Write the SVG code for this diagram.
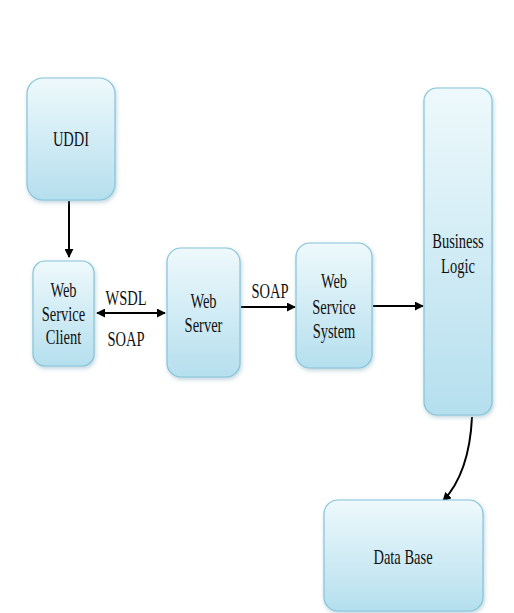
<svg xmlns="http://www.w3.org/2000/svg" width="514" height="613" viewBox="0 0 514 613">
<defs>
<linearGradient id="g" x1="0" y1="0" x2="0" y2="1">
<stop offset="0" stop-color="#eef9fc"/>
<stop offset="1" stop-color="#b5dfee"/>
</linearGradient>
<filter id="sh" x="-20%" y="-20%" width="140%" height="140%">
<feGaussianBlur in="SourceAlpha" stdDeviation="2"/>
<feOffset dx="1" dy="2" result="b"/>
<feFlood flood-color="#7aa9bb" flood-opacity="0.5"/>
<feComposite in2="b" operator="in"/>
<feMerge><feMergeNode/><feMergeNode in="SourceGraphic"/></feMerge>
</filter>
<marker id="ah" viewBox="0 0 10 10" refX="9" refY="5" markerWidth="4.5" markerHeight="4.5" orient="auto-start-reverse" markerUnits="strokeWidth">
<path d="M0,0 L10,5 L0,10 z" fill="#000"/>
</marker>
</defs>
<style>
.box{fill:url(#g);stroke:#86c4d9;stroke-width:1.2;filter:url(#sh)}
.t{font-family:"Liberation Serif","Times New Roman",serif;font-size:14.5px;fill:#111;text-anchor:middle}
.c{fill:none;stroke:#000;stroke-width:2}
</style>
<g id="connectors">
<path class="c" d="M69,201 L69,257" marker-end="url(#ah)"/>
<path class="c" d="M97,313 L165,313" marker-start="url(#ah)" marker-end="url(#ah)"/>
<path class="c" d="M241,307 L295,307" marker-end="url(#ah)"/>
<path class="c" d="M373,306 L423,306" marker-end="url(#ah)"/>
<path class="c" d="M472,417 C470,460 458,485 443,501" marker-end="url(#ah)"/>
<text class="t" transform="translate(126,305) scale(1,1.45)">WSDL</text>
<text class="t" transform="translate(126,346) scale(1,1.45)">SOAP</text>
<text class="t" transform="translate(270,298) scale(1,1.45)">SOAP</text>
</g>
<g id="uddi">
<rect class="box" x="27" y="78" width="88" height="122" rx="16"/>
<text class="t" transform="translate(71,146) scale(1,1.45)">UDDI</text>
</g>
<g id="client">
<rect class="box" x="33" y="261" width="61" height="105" rx="12"/>
<text class="t" transform="translate(63.5,297) scale(1,1.45)">Web</text>
<text class="t" transform="translate(63.5,321) scale(1,1.45)">Service</text>
<text class="t" transform="translate(63.5,344) scale(1,1.45)">Client</text>
</g>
<g id="webserver">
<rect class="box" x="167" y="248" width="73" height="129" rx="14"/>
<text class="t" transform="translate(203.5,308) scale(1,1.45)">Web</text>
<text class="t" transform="translate(203.5,332) scale(1,1.45)">Server</text>
</g>
<g id="wss">
<rect class="box" x="296" y="243" width="76" height="125" rx="14"/>
<text class="t" transform="translate(334,288) scale(1,1.45)">Web</text>
<text class="t" transform="translate(334,314) scale(1,1.45)">Service</text>
<text class="t" transform="translate(334,338) scale(1,1.45)">System</text>
</g>
<g id="business">
<rect class="box" x="424" y="88" width="68" height="327" rx="13"/>
<text class="t" transform="translate(458,248) scale(1,1.45)">Business</text>
<text class="t" transform="translate(458,273) scale(1,1.45)">Logic</text>
</g>
<g id="database">
<rect class="box" x="324" y="500" width="159" height="111" rx="14"/>
<text class="t" transform="translate(403,564) scale(1,1.45)">Data Base</text>
</g>
</svg>
